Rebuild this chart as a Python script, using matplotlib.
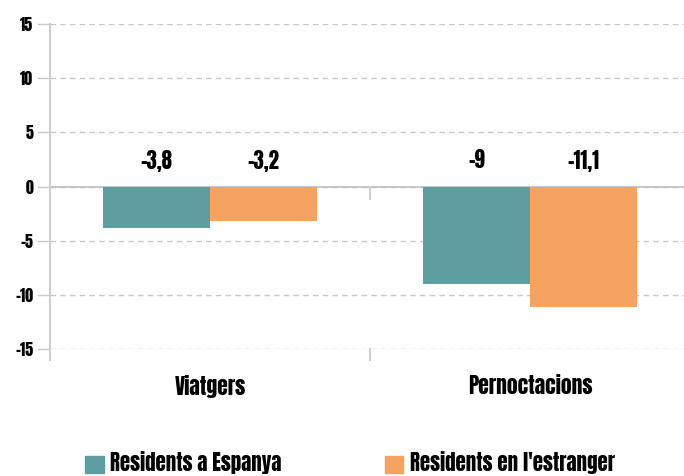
import matplotlib
matplotlib.use("Agg")
from matplotlib import pyplot as plt
from matplotlib.patches import Patch

categories = ["Viatgers", "Pernoctacions"]
series_names = ["Residents a Espanya", "Residents en l'estranger"]
residents_espanya = [-3.8, -9]
residents_estranger = [-3.2, -11.1]
value_labels = [["-3,8", "-9"], ["-3,2", "-11,1"]]
y_ticks = [15, 10, 5, 0, -5, -10, -15]

TEAL = "#5F9EA0"
ORANGE = "#F4A460"
GRID = "#c8c8c8"

plt.rcParams["font.family"] = ["Anton", "Oswald", "DejaVu Sans"]

fig = plt.figure(figsize=(6.84, 4.76), dpi=100)
# axes from x=50px to 690px, y=24px (15) to 349px (-15)
ax = fig.add_axes([50 / 684, 1 - 349 / 476, 640 / 684, 325 / 476])

ax.set_xlim(-0.5, 1.5)
ax.set_ylim(-15, 15)

w = 1 / 3
x = [0, 1]
ax.bar([i - w / 2 for i in x], residents_espanya, width=w, color=TEAL, zorder=3)
ax.bar([i + w / 2 for i in x], residents_estranger, width=w, color=ORANGE, zorder=3)

for s, offs in enumerate([-w / 2, w / 2]):
    for i in x:
        ax.text(i + offs, 2.4, value_labels[s][i], ha="center", va="center",
                fontsize=15, color="black")

for t in y_ticks:
    ax.axhline(t, color=GRID, lw=1, ls=(0, (4, 3)), zorder=1)
    ax.plot([-0.5 - 12 / 320, -0.5], [t, t], color=GRID, lw=1, clip_on=False, zorder=1)
ax.axhline(0, color="#bfbfbf", lw=1.2, zorder=2)

# vertical axis and category separator ticks
ax.plot([-0.5, -0.5], [15, -15 - 11 / 10.83], color="#d0d0d0", lw=1.5, clip_on=False, zorder=2)
ax.plot([0.5, 0.5], [0, -12 / 10.83], color="#d0d0d0", lw=1.5, zorder=2)
ax.plot([0.5, 0.5], [-15, -15 - 11 / 10.83], color="#d0d0d0", lw=1.5, clip_on=False, zorder=2)

for sp in ax.spines.values():
    sp.set_visible(False)

ax.set_yticks(y_ticks)
ax.set_yticklabels([str(t) for t in y_ticks], fontsize=11.5)
ax.tick_params(axis="y", length=0, pad=12)
ax.set_xticks(x)
ax.set_xticklabels(categories, fontsize=15.5)
ax.tick_params(axis="x", length=0, pad=19)

handles = [Patch(color=TEAL), Patch(color=ORANGE)]
fig.legend(handles, series_names, loc="center left", bbox_to_anchor=(85 / 684, 1 - 463 / 476),
           ncol=2, frameon=False, handlelength=0.9, handleheight=0.9,
           handletextpad=0.3, columnspacing=4.95, borderpad=0, borderaxespad=0,
           prop={"size": 15})

fig.savefig("out.png", dpi=100)
